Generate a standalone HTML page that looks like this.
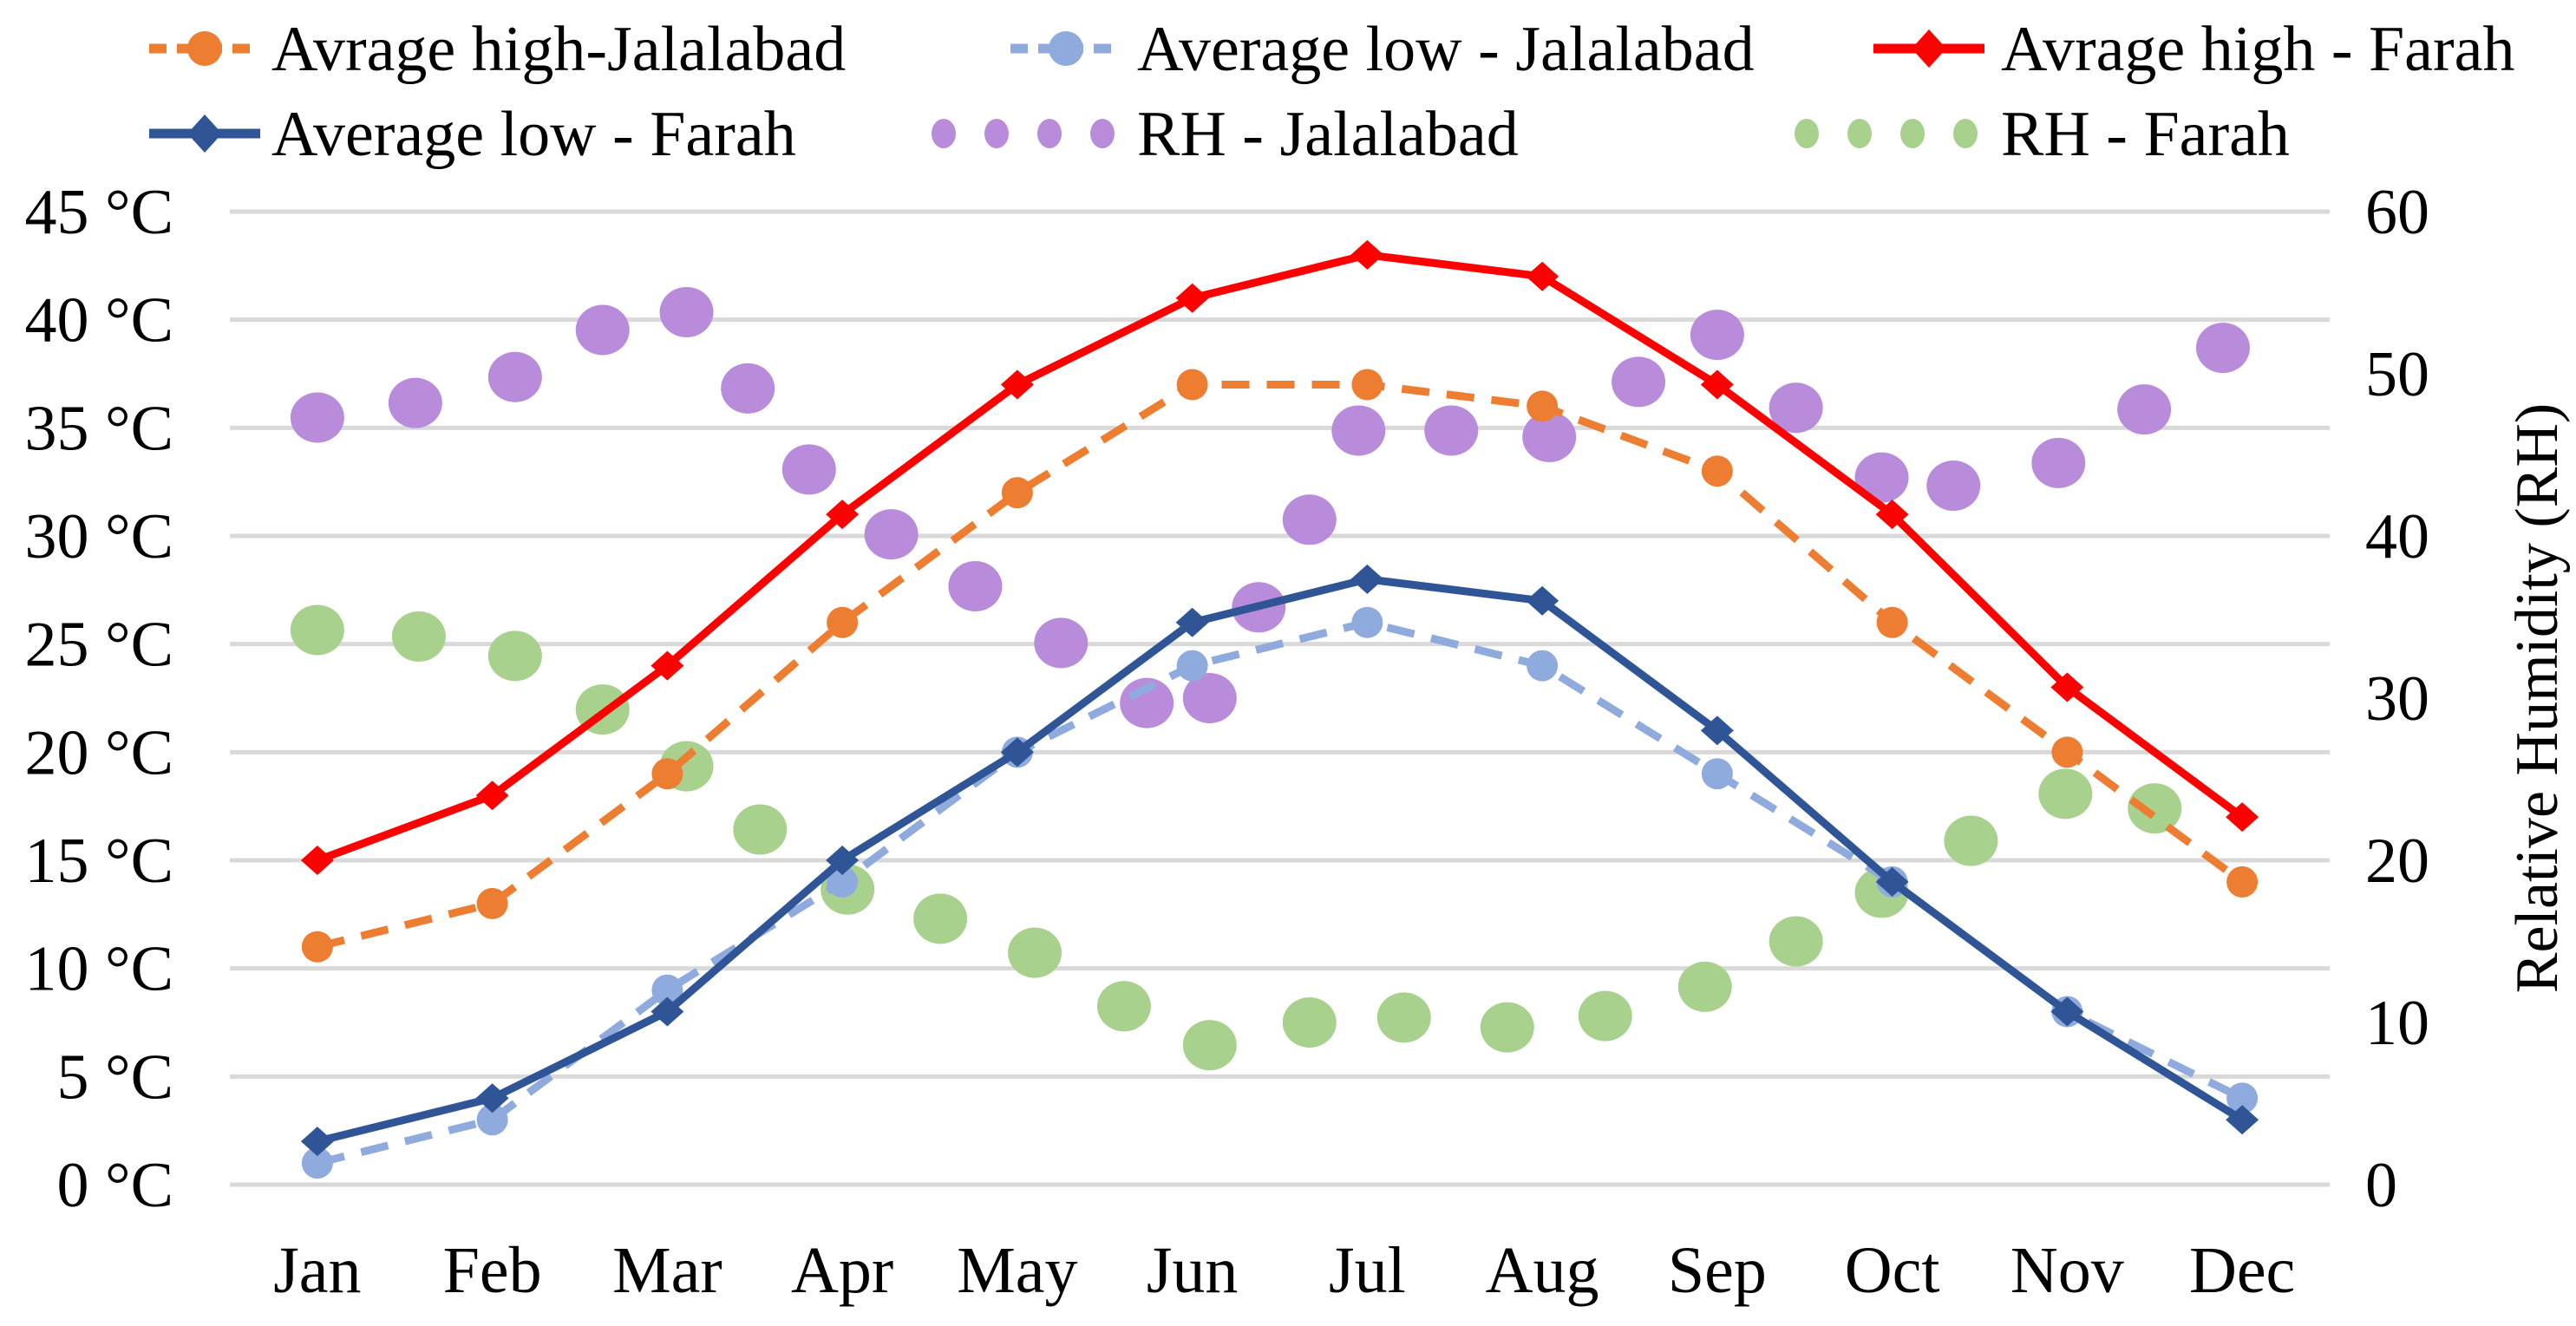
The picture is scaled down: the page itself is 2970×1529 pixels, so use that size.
<!DOCTYPE html>
<html><head><meta charset="utf-8">
<style>
html,body{margin:0;padding:0;background:#fff;}
svg{display:block;font-family:"Liberation Serif",serif;}
</style></head>
<body>
<svg id="chart" width="2970" height="1529" viewBox="0 0 2970 1529" xmlns="http://www.w3.org/2000/svg">
<g id="grid"></g>
<g id="yLeft"></g>
<g id="yRight"></g>
<g id="xAxis"></g>
<g id="series"></g>
<g id="legend"></g>
<text transform="translate(2948,805) rotate(-90)" text-anchor="middle" font-size="70" fill="#000">Relative Humidity (RH)</text>
</svg>
<script>
const months = ["Jan","Feb","Mar","Apr","May","Jun","Jul","Aug","Sep","Oct","Nov","Dec"];
const highJal = [11,13,19,26,32,37,37,36,33,26,20,14];
const lowJal = [1,3,9,14,20,24,26,24,19,14,8,4];
const highFar = [15,18,24,31,37,41,43,42,37,31,23,17];
const lowFar = [2,4,8,15,20,26,28,27,21,14,8,3];
const rhJalPos = [0,0.56,1.13,1.63,2.11,2.46,2.81,3.28,3.76,4.25,4.74,5.10,5.38,5.67,5.95,6.48,7.04,7.55,8.00,8.45,8.94,9.35,9.95,10.44,10.89];
const rhJal = [47.3,48.2,49.8,52.7,53.8,49.1,44.1,40.1,36.9,33.4,29.7,30.0,35.6,41.0,46.5,46.5,46.1,49.5,52.4,47.9,43.6,43.1,44.5,47.8,51.6];
const rhFarPos = [0,0.58,1.13,1.63,2.11,2.53,3.03,3.56,4.10,4.61,5.10,5.67,6.21,6.80,7.36,7.93,8.45,8.94,9.45,9.99,10.50];
const rhFar = [34.2,33.8,32.6,29.3,25.8,21.9,18.2,16.4,14.3,11.0,8.6,10.0,10.3,9.7,10.4,12.2,15.0,18.0,21.2,24.1,23.2];
const leftTicks = [0,5,10,15,20,25,30,35,40,45];
const rightTicks = [0,10,20,30,40,50,60];

const NS="http://www.w3.org/2000/svg";
const X0=265, X1=2686, Y0=1366, Y1=244;
const step=(X1-X0)/12;
const xM = i => X0 + step*(i+0.5);
const yT = v => Y0 - (v/45)*(Y0-Y1);
const yR = v => Y0 - (v/60)*(Y0-Y1);
function mk(tag, attrs, parent){const e=document.createElementNS(NS,tag);for(const k in attrs)e.setAttribute(k,attrs[k]);parent.appendChild(e);return e;}

const grid=document.getElementById('grid');
leftTicks.forEach(t=>{
  const l=mk('line',{x1:X0,x2:X1,y1:yT(t),y2:yT(t),stroke:'#d9d9d9','stroke-width':5},grid);
  
  
});
const yl=document.getElementById('yLeft');
leftTicks.forEach(t=>{
  const e=mk('text',{x:200,y:yT(t)+25,'text-anchor':'end','font-size':74,fill:'#000'},yl);
  e.textContent=t+' °C';
  
  
});
const yr=document.getElementById('yRight');
rightTicks.forEach(t=>{
  const e=mk('text',{x:2727,y:yR(t)+25,'text-anchor':'start','font-size':74,fill:'#000'},yr);
  e.textContent=t;
  
  
});
const xa=document.getElementById('xAxis');
months.forEach((m,i)=>{
  const e=mk('text',{x:xM(i),y:1490,'text-anchor':'middle','font-size':76,fill:'#000'},xa);
  e.textContent=m;
  
  
});

const ser=document.getElementById('series');
function dots(pos, vals, color, name){
  const g=mk('g',{},ser);
  
  
  vals.forEach((v,i)=>{
    const c=mk('ellipse',{cx:xM(pos[i]),cy:yR(v),rx:31,ry:29,fill:color},g);
    
    
  });
}
function line(vals, color, dashed, marker, name){
  const g=mk('g',{},ser);
  
  
  const pts=vals.map((v,i)=>xM(i)+','+yT(v)).join(' ');
  const p=mk('polyline',{points:pts,fill:'none',stroke:color,'stroke-width':9,'stroke-linejoin':'round'},g);
  if(dashed) p.setAttribute('stroke-dasharray','32 20');
  
  
  vals.forEach((v,i)=>{
    let m;
    if(marker==='circle') m=mk('circle',{cx:xM(i),cy:yT(v),r:18,fill:color},g);
    else { const x=xM(i),y=yT(v); m=mk('polygon',{points:`${x},${y-17} ${x+19},${y} ${x},${y+17} ${x-19},${y}`,fill:color},g); }
    
    
  });
}
dots(rhJalPos, rhJal, '#b88cdb', 'rh-jalalabad');
dots(rhFarPos, rhFar, '#a9d18e', 'rh-farah');
line(lowJal,'#8faadc',true,'circle','avg-low-jalalabad');
line(highJal,'#ed7d31',true,'circle','avg-high-jalalabad');
line(lowFar,'#2f5597',false,'diamond','avg-low-farah');
line(highFar,'#ff0000',false,'diamond','avg-high-farah');

// legend
const lg=document.getElementById('legend');
function legItem(x,y,tx,type,color,label,name){
  const g=mk('g',{},lg);
  
  
  if(type==='dots'){
    [0,1,2,3].forEach(k=>{mk('ellipse',{cx:x+18+k*61,cy:y,rx:14,ry:17,fill:color},g);});
  } else {
    const l=mk('line',{x1:x,x2:x+128,y1:y,y2:y,stroke:color,'stroke-width':11},g);
    if(type==='dashc') l.setAttribute('stroke-dasharray','20 12');
    if(type==='dashc') mk('circle',{cx:x+64,cy:y,r:20,fill:color},g);
    if(type==='diam') mk('polygon',{points:`${x+64},${y-22} ${x+84},${y} ${x+64},${y+22} ${x+44},${y}`,fill:color},g);
  }
  const t=mk('text',{x:tx,y:y+25,'font-size':74,fill:'#000'},g);
  t.textContent=label;
}
legItem(172,56,313,'dashc','#ed7d31','Avrage high-Jalalabad','legend-avg-high-jalalabad');
legItem(1165,56,1311,'dashc','#8faadc','Average low - Jalalabad','legend-avg-low-jalalabad');
legItem(2160,56,2307,'diam','#ff0000','Avrage high - Farah','legend-avg-high-farah');
legItem(172,154,313,'diam','#2f5597','Average low - Farah','legend-avg-low-farah');
legItem(1070,154,1311,'dots','#b88cdb','RH - Jalalabad','legend-rh-jalalabad');
legItem(2065,154,2307,'dots','#a9d18e','RH - Farah','legend-rh-farah');
</script>
</body></html>
